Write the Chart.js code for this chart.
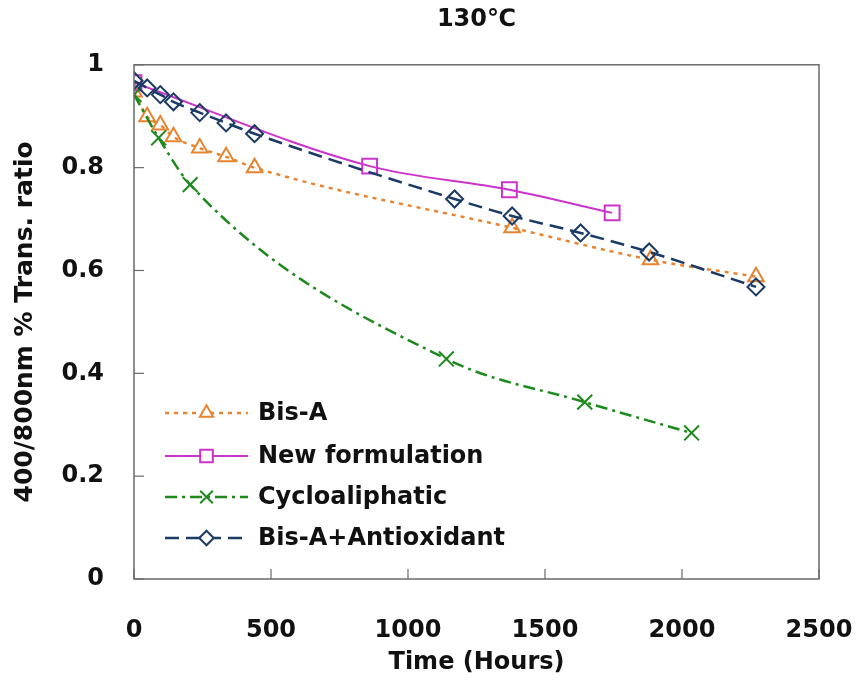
<!DOCTYPE html>
<html>
<head>
<meta charset="utf-8">
<script src="https://cdn.jsdelivr.net/npm/chart.js@4/dist/chart.umd.min.js"></script>
<style>
  html, body { margin: 0; padding: 0; background: #fff; }
  #wrap { width: 859px; height: 680px; }
</style>
</head>
<body>
<div id="wrap"><canvas id="chart" width="859" height="680"></canvas></div>
<script>
// data
const seriesNames = ["Bis-A", "New formulation", "Cycloaliphatic", "Bis-A+Antioxidant"];

const bisAHours = [0, 48, 96, 144, 240, 336, 440, 1380, 1885, 2270];
const bisAValues = [0.947, 0.899, 0.883, 0.860, 0.838, 0.821, 0.800, 0.683, 0.621, 0.588];

const newHours = [0, 860, 1370, 1745];
const newValues = [0.965, 0.803, 0.757, 0.712];

const cycloHours = [0, 90, 205, 1140, 1645, 2035];
const cycloValues = [0.942, 0.858, 0.767, 0.428, 0.344, 0.284];

const antiHours = [0, 48, 96, 144, 240, 336, 440, 1170, 1380, 1630, 1880, 2270];
const antiValues = [0.969, 0.955, 0.942, 0.928, 0.907, 0.887, 0.866, 0.739, 0.706, 0.673, 0.636, 0.568];

const xTicks = [0, 500, 1000, 1500, 2000, 2500];
const yTicks = [0, 0.2, 0.4, 0.6, 0.8, 1];

const FONT = "'DejaVu Sans', 'Liberation Sans', Arial, sans-serif";

function pts(xs, ys) {
    return xs.map((x, i) => ({ x: x, y: ys[i] }));
}

const styles = [
    { color: "#E8842F", dash: [4, 5], marker: "triangle", radius: 9, width: 2.5 },
    { color: "#CC33CC", dash: [], marker: "rect", radius: 10.5, width: 2 },
    { color: "#1E8A1E", dash: [12, 5, 3, 5], marker: "crossRot", radius: 10.5, width: 2.5 },
    { color: "#1B3A66", dash: [14, 7], marker: "rectRot", radius: 8.5, width: 2.5 }
];

const allData = [
    pts(bisAHours, bisAValues),
    pts(newHours, newValues),
    pts(cycloHours, cycloValues),
    pts(antiHours, antiValues)
];

const datasets = seriesNames.map((name, i) => ({
    label: name,
    data: allData[i],
    borderColor: styles[i].color,
    backgroundColor: "rgba(255,255,255,0)",
    borderWidth: styles[i].width,
    borderDash: styles[i].dash,
    pointStyle: styles[i].marker,
    pointRadius: styles[i].radius,
    pointBorderColor: styles[i].color,
    pointBackgroundColor: "rgba(255,255,255,0)",
    pointBorderWidth: 2,
    tension: 0.3,
    cubicInterpolationMode: "monotone",
    fill: false,
    order: 4 - i
}));

// box round the plot + inward tick marks
const frame = {
    id: "frame",
    afterDraw(chart) {
        const ctx = chart.ctx;
        const a = chart.chartArea;
        ctx.save();
        ctx.strokeStyle = "#6a6a6a";
        ctx.lineWidth = 1.5;
        ctx.strokeRect(a.left, a.top, a.right - a.left, a.bottom - a.top);
        ctx.lineWidth = 1.2;
        const xs = chart.scales.x;
        xs.ticks.forEach((t, i) => {
            const px = xs.getPixelForTick(i);
            ctx.beginPath();
            ctx.moveTo(px, a.bottom);
            ctx.lineTo(px, a.bottom - 10);
            ctx.stroke();
        });
        const ys = chart.scales.y;
        ys.ticks.forEach((t, i) => {
            const py = ys.getPixelForTick(i);
            ctx.beginPath();
            ctx.moveTo(a.left, py);
            ctx.lineTo(a.left + 10, py);
            ctx.stroke();
        });
        ctx.restore();
    }
};

function marker(ctx, style, x, y, r) {
    if (Chart.helpers && Chart.helpers.drawPoint) {
        Chart.helpers.drawPoint(ctx, { pointStyle: style, radius: r, rotation: 0, borderWidth: 2 }, x, y);
    }
}

// legend inside the plot, bottom left
const insideLegend = {
    id: "insideLegend",
    afterDraw(chart) {
        const ctx = chart.ctx;
        const a = chart.chartArea;
        const rows = [166, 123, 82, 41];
        ctx.save();
        seriesNames.forEach((name, i) => {
            const s = styles[i];
            const y = a.bottom - rows[i];
            const x0 = a.left + 31;
            const x1 = a.left + 114;
            ctx.strokeStyle = s.color;
            ctx.lineWidth = s.width;
            ctx.setLineDash(s.dash);
            ctx.beginPath();
            ctx.moveTo(x0, y);
            ctx.lineTo(x1, y);
            ctx.stroke();
            ctx.setLineDash([]);
            ctx.fillStyle = "#fff";
            ctx.strokeStyle = s.color;
            ctx.lineWidth = 2;
            marker(ctx, s.marker, (x0 + x1) / 2, y, s.radius * 0.85);
            ctx.fillStyle = "#111";
            ctx.font = "bold 24px " + FONT;
            ctx.textAlign = "left";
            ctx.textBaseline = "middle";
            ctx.fillText(name, a.left + 124, y + 1);
        });
        ctx.restore();
    }
};

new Chart(document.getElementById("chart"), {
    type: "line",
    data: { datasets: datasets },
    options: {
        responsive: false,
        animation: false,
        layout: { padding: { left: 0, right: 40, top: 0, bottom: 0 } },
        plugins: {
            legend: { display: false },
            tooltip: { enabled: false },
            title: {
                display: true,
                text: "130\u2103",
                fullSize: false,
                color: "#111",
                font: { family: FONT, size: 24, weight: "bold" },
                padding: { top: 5, bottom: 31 }
            }
        },
        scales: {
            x: {
                type: "linear",
                min: 0,
                max: 2500,
                afterBuildTicks: (s) => { s.ticks = xTicks.map(v => ({ value: v })); },
                afterFit: (s) => { s.height = 101; s.paddingRight = 0; s.paddingLeft = 0; },
                grid: { display: false, drawTicks: false },
                border: { display: false },
                ticks: {
                    color: "#111",
                    padding: 37,
                    maxRotation: 0,
                    callback: (v) => String(v),
                    font: { family: FONT, size: 24, weight: "bold" }
                },
                title: {
                    display: true,
                    text: "Time (Hours)",
                    color: "#111",
                    font: { family: FONT, size: 24, weight: "bold" },
                    padding: { top: 0, bottom: 3 }
                }
            },
            y: {
                type: "linear",
                min: 0,
                max: 1,
                afterBuildTicks: (s) => { s.ticks = yTicks.map(v => ({ value: v })); },
                afterFit: (s) => { s.width = 134; s.paddingTop = 0; s.paddingBottom = 0; },
                grid: { display: false, drawTicks: false },
                border: { display: false },
                ticks: {
                    color: "#111",
                    padding: 30,
                    callback: (v) => (v === 0 || v === 1) ? String(v) : v.toFixed(1),
                    font: { family: FONT, size: 24, weight: "bold" }
                },
                title: {
                    display: true,
                    text: "400/800nm % Trans. ratio",
                    color: "#111",
                    font: { family: FONT, size: 25, weight: "bold" },
                    padding: { top: 10, bottom: 0 }
                }
            }
        }
    },
    plugins: [frame, insideLegend]
});
</script>
</body>
</html>
